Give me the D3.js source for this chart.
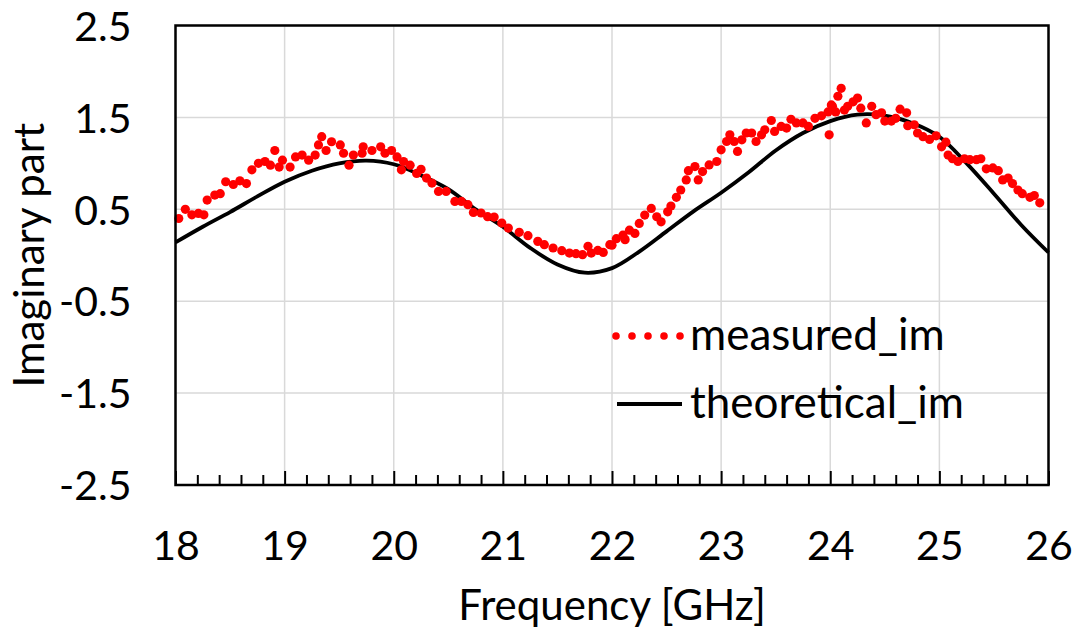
<!DOCTYPE html>
<html>
<head>
<meta charset="utf-8">
<script src="https://cdn.jsdelivr.net/npm/d3@7"></script>
<style>
  body { margin: 0; background: #fff; }
  text { font-family: Lato, "Open Sans", sans-serif; fill: #000; }
</style>
</head>
<body>
<div id="chart"></div>
<script>
// measured points (GHz, imaginary part)
var measFreq = [18.03,18.09,18.15,18.21,18.26,18.29,18.36,18.41,18.46,18.53,18.59,18.65,18.70,18.76,18.82,18.87,18.91,18.95,18.98,
  19.05,19.10,19.16,19.22,19.28,19.31,19.34,19.38,19.43,19.51,19.54,19.59,19.63,19.71,19.72,19.80,19.88,19.92,19.98,
  20.03,20.07,20.09,20.15,20.21,20.25,20.30,20.35,20.41,20.48,20.56,20.62,20.68,20.73,20.80,20.86,20.92,20.99,
  21.05,21.15,21.23,21.32,21.38,21.46,21.54,21.61,21.67,21.73,21.78,21.81,21.87,21.92,21.98,
  22.00,22.04,22.10,22.12,22.16,22.21,22.25,22.30,22.36,22.41,22.45,22.51,22.54,22.59,22.63,22.68,22.70,22.76,22.79,22.83,22.89,22.96,
  23.00,23.05,23.08,23.12,23.15,23.19,23.23,23.28,23.32,23.37,23.40,23.46,23.49,23.55,23.60,23.64,23.69,23.75,23.80,23.86,23.92,23.98,23.99,
  24.01,24.02,24.05,24.07,24.10,24.13,24.16,24.21,24.25,24.28,24.33,24.38,24.42,24.47,24.50,24.56,24.60,24.64,24.70,24.71,24.77,24.80,24.85,24.91,24.97,
  25.02,25.06,25.08,25.12,25.17,25.23,25.28,25.34,25.38,25.43,25.49,25.54,25.58,25.63,25.67,25.72,25.76,25.83,25.87,25.92];
var measIm = [0.40,0.50,0.44,0.455,0.44,0.60,0.655,0.67,0.80,0.77,0.81,0.78,0.93,1.00,1.02,0.98,1.14,0.96,1.035,
  0.96,1.07,1.09,1.035,1.09,1.20,1.29,1.14,1.235,1.20,1.11,0.98,1.09,1.11,1.18,1.14,1.18,1.11,1.14,
  1.07,0.93,1.02,0.98,0.89,0.935,0.84,0.785,0.695,0.695,0.586,0.586,0.55,0.466,0.46,0.42,0.415,0.35,
  0.296,0.249,0.213,0.151,0.115,0.079,0.05,0.024,0.017,0.006,0.097,0.024,0.053,0.031,0.115,
  0.11,0.18,0.218,0.17,0.273,0.237,0.346,0.437,0.51,0.419,0.364,0.473,0.535,0.63,0.71,0.82,0.92,0.965,0.82,0.91,0.983,1.02,
  1.147,1.238,1.31,1.238,1.13,1.256,1.33,1.33,1.238,1.31,1.365,1.466,1.347,1.402,1.384,1.48,1.44,1.44,1.402,1.49,1.517,1.56,1.31,
  1.636,1.62,1.56,1.73,1.816,1.58,1.62,1.67,1.71,1.60,1.44,1.62,1.53,1.55,1.46,1.46,1.49,1.59,1.55,1.41,1.42,1.33,1.29,1.26,1.30,
  1.18,1.23,1.09,1.05,1.02,1.05,1.04,1.04,1.05,0.94,0.95,0.92,0.82,0.84,0.78,0.71,0.67,0.63,0.65,0.57];

// theoretical curve
var theoFreq = [18,18.25,18.5,18.75,19,19.25,19.5,19.75,20,20.25,20.5,20.75,21,21.25,21.5,21.75,22,22.25,22.5,22.75,
  23,23.25,23.5,23.75,24,24.25,24.5,24.75,25,25.25,25.5,25.75,26];
var theoIm = [0.14,0.31,0.47,0.64,0.80,0.92,1.00,1.03,0.99,0.87,0.72,0.50,0.31,0.08,-0.10,-0.19,-0.14,0.04,0.26,0.48,
  0.68,0.90,1.14,1.33,1.46,1.53,1.52,1.44,1.29,1.00,0.67,0.33,0.03];

var xTicks = [18,19,20,21,22,23,24,25,26];
var yTicks = [2.5,1.5,0.5,-0.5,-1.5,-2.5];
var seriesNames = ["measured_im", "theoretical_im"];

var W = 1079, H = 635;
var margin = {top: 25.5, left: 175.5, right: 30.5, bottom: 150};
var width = W - margin.left - margin.right,
    height = H - margin.top - margin.bottom;

var svg = d3.select("#chart").append("svg")
    .attr("width", W).attr("height", H);

var g = svg.append("g").attr("transform", "translate(" + margin.left + "," + margin.top + ")");

var x = d3.scaleLinear().domain([18, 26]).range([0, width]),
    y = d3.scaleLinear().domain([-2.5, 2.5]).range([height, 0]);

// gridlines
g.selectAll(".vgrid").data(xTicks).enter().append("line")
  .attr("x1", d => x(d)).attr("x2", d => x(d))
  .attr("y1", 0).attr("y2", height)
  .attr("stroke", "#d9d9d9").attr("stroke-width", 1.5);
g.selectAll(".hgrid").data(yTicks).enter().append("line")
  .attr("x1", 0).attr("x2", width)
  .attr("y1", d => y(d)).attr("y2", d => y(d))
  .attr("stroke", "#d9d9d9").attr("stroke-width", 1.5);

// bottom axis with inside ticks (major + minor)
var minor = d3.range(18, 26.001, 0.2).filter(d => Math.abs(d - Math.round(d)) > 0.01);
g.append("g")
  .attr("transform", "translate(0," + height + ")")
  .call(d3.axisBottom(x).tickValues(minor).tickSizeInner(-10).tickSizeOuter(0).tickFormat(""))
  .call(a => a.select(".domain").remove())
  .selectAll("line").attr("stroke", "#000").attr("stroke-width", 2);
var xAxis = g.append("g")
  .attr("transform", "translate(0," + height + ")")
  .call(d3.axisBottom(x).tickValues(xTicks).tickSizeInner(-14).tickSizeOuter(0).tickPadding(0));
xAxis.select(".domain").remove();
xAxis.selectAll("line").attr("stroke", "#000").attr("stroke-width", 2);
xAxis.selectAll("text")
  .attr("y", 75).attr("dy", null)
  .style("font-size", "41px");

// left axis, labels only (plain hyphen for negatives)
var yAxis = g.append("g")
  .call(d3.axisLeft(y).tickValues(yTicks).tickSize(0).tickPadding(44)
    .tickFormat(d => d3.format(".1f")(d).replace("\u2212", "-")));
yAxis.select(".domain").remove();
yAxis.selectAll("text").attr("dy", "0.36em").style("font-size", "41px");

// theoretical line
var line = d3.line()
  .x(function(d, i) { return x(theoFreq[i]); })
  .y(function(d) { return y(d); })
  .curve(d3.curveCatmullRom);
g.append("path")
  .datum(theoIm)
  .attr("fill", "none")
  .attr("stroke", "#000")
  .attr("stroke-width", 3.8)
  .attr("d", line);

// measured dots
g.selectAll(".dots").data(measIm).enter().append("circle")
  .attr("cx", function(d, i) { return x(measFreq[i]); })
  .attr("cy", function(d) { return y(d); })
  .attr("r", 4.6)
  .attr("fill", "#ff0000");

// frame
g.append("rect")
  .attr("width", width).attr("height", height)
  .attr("fill", "none").attr("stroke", "#000").attr("stroke-width", 2.5);

// legend
var leg = svg.append("g").attr("transform", "translate(614,336)");
leg.selectAll(".ldot").data(d3.range(5)).enter().append("circle")
  .attr("cx", d => 2 + d * 16).attr("cy", 0).attr("r", 3.8).attr("fill", "#ff0000");
leg.append("line").attr("x1", 3).attr("x2", 68).attr("y1", 68).attr("y2", 68)
  .attr("stroke", "#000").attr("stroke-width", 3.8);
leg.selectAll(".ltext").data(seriesNames).enter().append("text")
  .attr("x", 76).attr("y", (d, i) => 14 + i * 68)
  .style("font-size", "44px")
  .text(d => d);

// axis titles
svg.append("text")
  .attr("x", margin.left + width / 2).attr("y", 620)
  .attr("text-anchor", "middle").style("font-size", "42px")
  .text("Frequency [GHz]");
svg.append("text")
  .attr("transform", "translate(44," + (margin.top + height / 2) + ") rotate(-90)")
  .attr("text-anchor", "middle").style("font-size", "42px")
  .text("Imaginary part");
</script>
</body>
</html>
